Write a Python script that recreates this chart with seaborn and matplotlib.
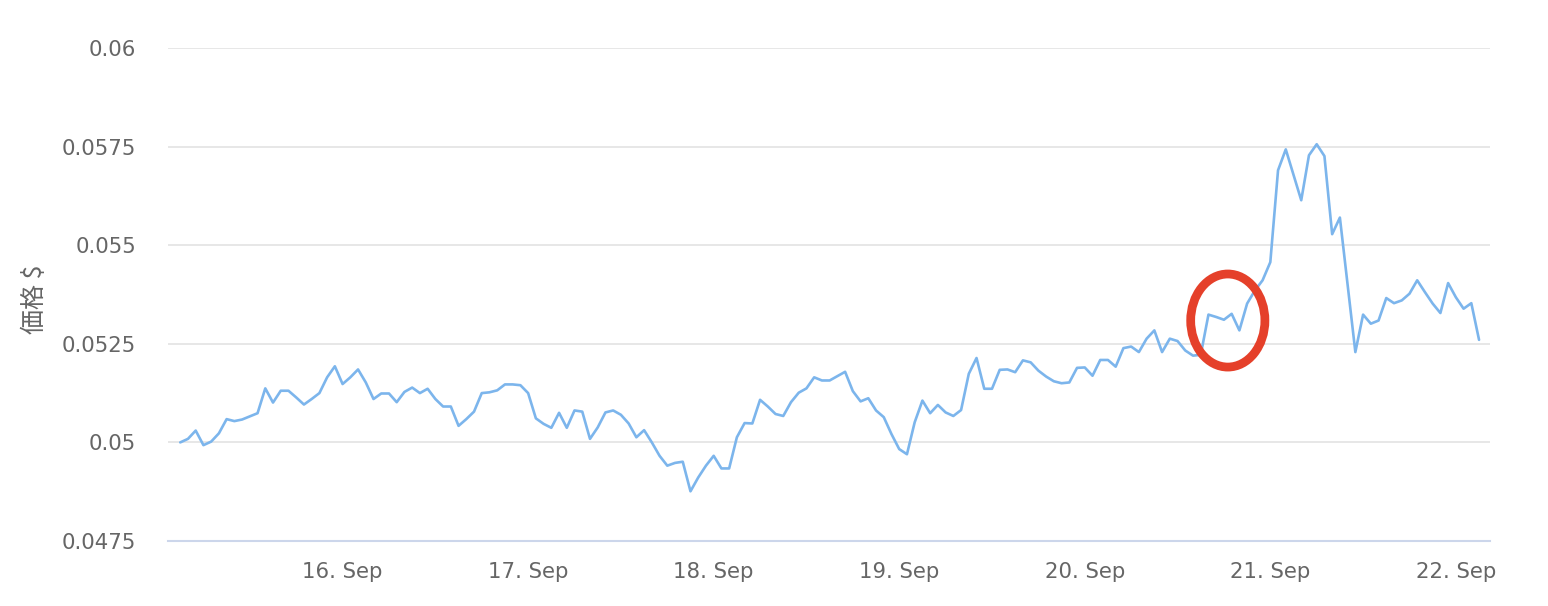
import numpy as np
import pandas as pd
import matplotlib
matplotlib.use("Agg")
import matplotlib.pyplot as plt
import matplotlib.dates as mdates
from matplotlib.patches import Ellipse
import seaborn as sns

# ---- data (hourly prices) ----
start_time = "2023-09-15 03:00"
n_hours = 169
prices = [
    0.05000, 0.05009, 0.05030, 0.04993, 0.05002, 0.05023, 0.05059, 0.05054, 0.05058, 0.05066,
    0.05074, 0.05137, 0.05101, 0.05131, 0.05131, 0.05114, 0.05096, 0.05110, 0.05125, 0.05165,
    0.05193, 0.05148, 0.05165, 0.05185, 0.05152, 0.05110, 0.05124, 0.05124, 0.05102, 0.05128,
    0.05139, 0.05125, 0.05136, 0.05110, 0.05091, 0.05091, 0.05042, 0.05059, 0.05078, 0.05125,
    0.05127, 0.05132, 0.05147, 0.05147, 0.05145, 0.05125, 0.05061, 0.05047, 0.05037, 0.05075,
    0.05037, 0.05081, 0.05078, 0.05009, 0.05038, 0.05076, 0.05081, 0.05070, 0.05048, 0.05013,
    0.05031, 0.05000, 0.04966, 0.04941, 0.04948, 0.04951, 0.04876, 0.04911, 0.04941, 0.04966,
    0.04934, 0.04934, 0.05013, 0.05049, 0.05048, 0.05108, 0.05091, 0.05072, 0.05067, 0.05102,
    0.05126, 0.05137, 0.05165, 0.05157, 0.05157, 0.05168, 0.05179, 0.05130, 0.05104, 0.05112,
    0.05081, 0.05064, 0.05021, 0.04983, 0.04970, 0.05051, 0.05106, 0.05074, 0.05095, 0.05076,
    0.05067, 0.05082, 0.05174, 0.05214, 0.05136, 0.05136, 0.05184, 0.05185, 0.05178, 0.05208,
    0.05203, 0.05182, 0.05167, 0.05155, 0.05150, 0.05152, 0.05189, 0.05190, 0.05169, 0.05209,
    0.05209, 0.05192, 0.05239, 0.05243, 0.05229, 0.05263, 0.05284, 0.05229, 0.05263, 0.05257,
    0.05233, 0.05220, 0.05222, 0.05324, 0.05318, 0.05311, 0.05326, 0.05284, 0.05352, 0.05385,
    0.05411, 0.05457, 0.05690, 0.05743, None,    0.05614, 0.05728, 0.05756, 0.05726, 0.05528,
    0.05570, None,    0.05229, 0.05324, 0.05301, 0.05309, 0.05366, 0.05353, 0.05360, 0.05377,
    0.05411, 0.05381, 0.05352, 0.05328, 0.05404, 0.05368, 0.05339, 0.05353, 0.05260,
]
y_ticks = [0.0475, 0.05, 0.0525, 0.055, 0.0575, 0.06]
y_tick_labels = ["0.0475", "0.05", "0.0525", "0.055", "0.0575", "0.06"]
y_label = "価格 $"
x_min, x_max = "2023-09-15 01:25", "2023-09-22 04:25"

# annotation ellipse (highlight)
ell_center_time = "2023-09-20 18:30"
ell_center_val = 0.05309
ell_width_days = 0.40
ell_height_val = 0.00236

times = pd.date_range(start_time, periods=n_hours, freq="h")
df = pd.DataFrame({"time": times, "price": pd.array(prices, dtype="Float64")}).dropna()
df["price"] = df["price"].astype(float)

# ---- style ----
sns.set_style("white")
plt.rcParams["font.family"] = ["DejaVu Sans", "Noto Sans CJK JP"]
label_color = "#666666"

fig = plt.figure(figsize=(15.48, 6.06), dpi=100)
ax = fig.add_axes([168 / 1548, 1 - 541 / 606, (1490 - 168) / 1548, (541 - 48) / 606])

sns.lineplot(data=df, x="time", y="price", ax=ax, color="#7cb5ec", linewidth=1.9)

ax.set_ylim(0.0475, 0.06)
ax.set_xlim(pd.Timestamp(x_min), pd.Timestamp(x_max))

ax.set_yticks(y_ticks)
ax.set_yticklabels(y_tick_labels)
ax.grid(axis="y", color="#e3e3e3", linewidth=1.2)
ax.grid(axis="x", visible=False)
ax.set_axisbelow(True)

ax.xaxis.set_major_locator(mdates.DayLocator())
ax.xaxis.set_major_formatter(mdates.DateFormatter("%-d. %b"))

for side in ["left", "right", "top"]:
    ax.spines[side].set_visible(False)
ax.spines["bottom"].set_color("#ccd6eb")
ax.spines["bottom"].set_linewidth(1.5)

ax.tick_params(axis="y", length=0, pad=23, labelsize=15.3, labelcolor=label_color)
ax.tick_params(axis="x", length=12, width=1.1, color="#ccd6eb", pad=3,
               labelsize=15.3, labelcolor=label_color)

ax.set_xlabel("")
ax.set_ylabel(y_label, fontsize=18, color=label_color,
              family=["Noto Sans CJK JP", "DejaVu Sans"])
ax.yaxis.set_label_coords(-0.0905, 0.49)

ell = Ellipse((mdates.date2num(pd.Timestamp(ell_center_time)), ell_center_val),
              width=ell_width_days, height=ell_height_val,
              fill=False, edgecolor="#e5402a", linewidth=6.3, zorder=5)
ax.add_patch(ell)

fig.savefig("out.png", dpi=100)
